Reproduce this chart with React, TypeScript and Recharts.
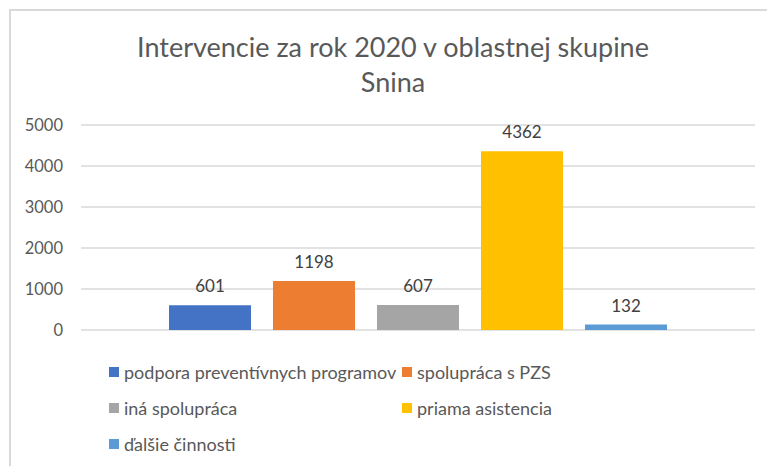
import { BarChart, Bar, XAxis, YAxis, CartesianGrid, LabelList } from 'recharts';

// Údaje z grafu
const seriesNames = [
  'podpora preventívnych programov',
  'spolupráca s PZS',
  'iná spolupráca',
  'priama asistencia',
  'ďalšie činnosti',
];
const seriesValues = [601, 1198, 607, 4362, 132];
const seriesColors = ['#4472C4', '#ED7D31', '#A5A5A5', '#FFC000', '#5B9BD5'];
const yTicks = [0, 1000, 2000, 3000, 4000, 5000];
const category = '2020';

const FONT = 'Lato, "Open Sans", sans-serif';

const chartData = [
  seriesValues.reduce<Record<string, string | number>>(
    (row, v, i) => {
      row[`s${i}`] = v;
      return row;
    },
    { name: category }
  ),
];

export default function App() {
  return (
    <div style={{ position: 'absolute', left: 0, top: 0, width: 767, height: 466, background: '#fff', fontFamily: FONT, overflow: 'hidden' }}>
      {/* rám grafu */}
      <div style={{ position: 'absolute', left: 9, top: 9, width: 767, height: 466, borderLeft: '2px solid #d9d9d9', borderTop: '2px solid #d9d9d9' }} />

      {/* nadpis */}
      <div style={{ position: 'absolute', left: 0, top: 29, width: 786, textAlign: 'center', color: '#595959', fontSize: 27, lineHeight: '35px' }}>
        Intervencie za rok 2020 v oblastnej skupine
        <br />
        Snina
      </div>

      <div style={{ position: 'absolute', left: 0, top: 0 }}>
        <BarChart
          width={767}
          height={466}
          data={chartData}
          margin={{ top: 125, right: 12, left: 0, bottom: 136 }}
          barCategoryGap={88}
          barGap={22}
        >
          <CartesianGrid vertical={false} stroke="#d9d9d9" strokeWidth={1.5} />
          <XAxis dataKey="name" hide />
          <YAxis
            width={81}
            domain={[0, 5000]}
            ticks={yTicks}
            axisLine={false}
            tickLine={false}
            tickSize={0}
            tickMargin={18}
            tick={{ fill: '#595959', fontSize: 16.5, fontFamily: FONT }}
          />
          {seriesNames.map((n, i) => (
            <Bar key={n} dataKey={`s${i}`} name={n} fill={seriesColors[i]} isAnimationActive={false}>
              <LabelList
                dataKey={`s${i}`}
                position="top"
                offset={13}
                style={{ fill: '#404040', fontSize: 17, fontFamily: FONT }}
              />
            </Bar>
          ))}
        </BarChart>
      </div>

      {/* legenda */}
      <div
        style={{
          position: 'absolute',
          left: 109,
          top: 360,
          display: 'grid',
          gridTemplateColumns: '293px 200px',
          rowGap: 12,
          color: '#595959',
          fontSize: 18,
          lineHeight: '24px',
        }}
      >
        {seriesNames.map((n, i) => (
          <div key={n} style={{ display: 'flex', alignItems: 'center', whiteSpace: 'nowrap' }}>
            <span style={{ display: 'inline-block', width: 10, height: 10, background: seriesColors[i], marginRight: 5 }} />
            {n}
          </div>
        ))}
      </div>
    </div>
  );
}
